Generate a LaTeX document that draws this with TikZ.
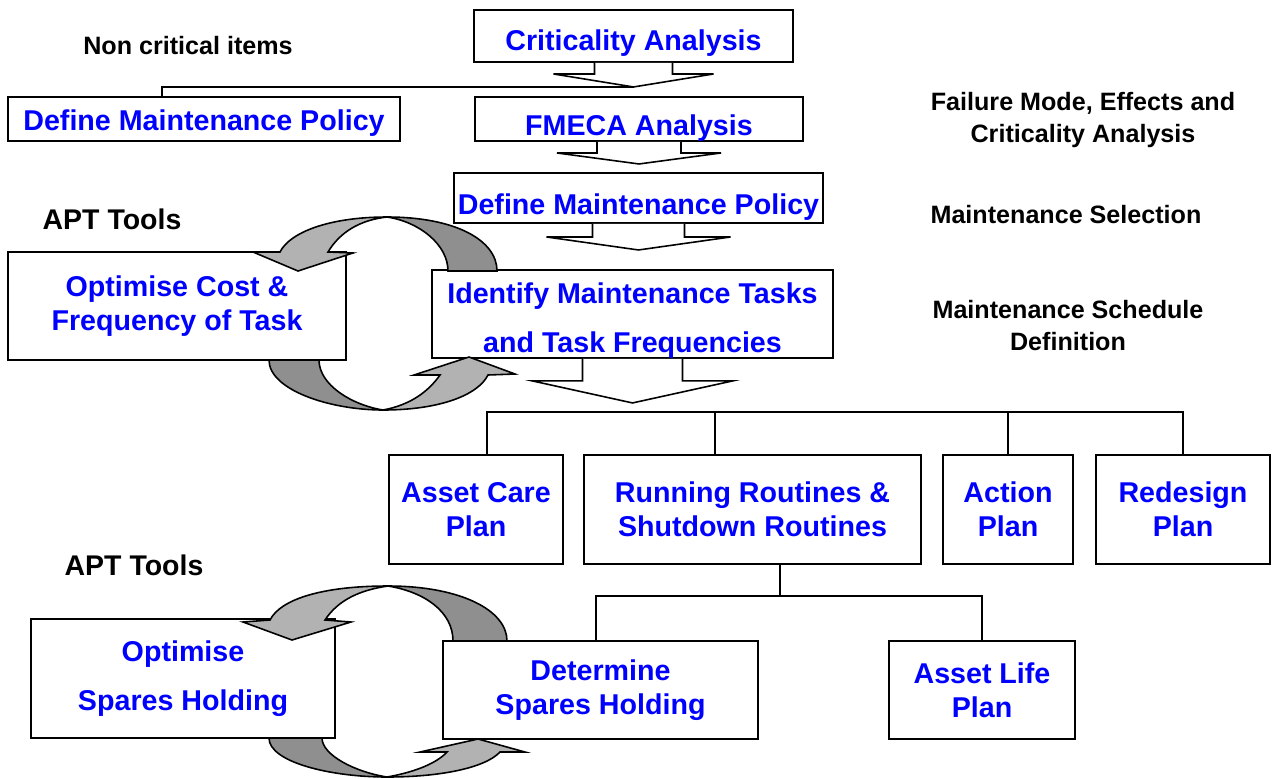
\documentclass[tikz,border=0pt]{standalone}
\usepackage{fontspec}
\setmainfont{Liberation Sans}

\newcommand*{\px}{0.02cm}

\definecolor{frontgrey}{HTML}{B2B2B2}
\definecolor{backgrey}{HTML}{8F8F8F}

\begin{document}
\begin{tikzpicture}
[
	x=\px, y=-\px,
	box/.style={draw,line width=1.1pt,fill=white,inner sep=0pt,align=center,text=blue,
		font=\bfseries\fontsize{16.3}{19.4}\selectfont},
	low/.style={text depth=0pt,text height=#1*\px},
	note/.style={align=center,font=\bfseries\fontsize{14.3}{18.2}\selectfont},
	tool/.style={font=\bfseries\fontsize{16.2}{19.4}\selectfont},
	link/.style={line width=0.9pt},
	blockarrow/.style={draw,fill=white,line width=0.9pt,line join=miter},
	front/.style={draw,line width=0.9pt,fill=frontgrey},
	back/.style={draw,line width=0.9pt,fill=backgrey}
]

	\useasboundingbox (0,0) rectangle (1274,778);

	% main chain
	\node[box,low=28,minimum width=319*\px,minimum height=52*\px] (crit) at (633.5,36) {Criticality Analysis};
	\node[box,low=22,minimum width=392*\px,minimum height=44*\px] (policyL) at (204,119) {Define Maintenance Policy};
	\node[box,low=32,minimum width=328*\px,minimum height=44*\px] (fmeca) at (639,119) {FMECA Analysis};
	\node[box,low=32,minimum width=369*\px,minimum height=50*\px] (policy) at (638.5,198) {Define Maintenance Policy};
	\node[box,minimum width=401*\px,minimum height=86*\px] (ident) at (632.5,314)
		{\rule{0pt}{0.66cm}Identify Maintenance Tasks\\[8.5pt] and Task Frequencies};
	\node[box,minimum width=338*\px,minimum height=108*\px] (cost) at (177,306)
		{Optimise Cost \&\\ Frequency of Task};

	% plans
	\node[box,minimum width=174*\px,minimum height=109*\px] (asset) at (476,509.5) {Asset Care\\ Plan};
	\node[box,minimum width=337*\px,minimum height=109*\px] (running) at (752.5,509.5)
		{Running Routines \&\\ Shutdown Routines};
	\node[box,minimum width=130*\px,minimum height=109*\px] (action) at (1008,509.5) {Action\\ Plan};
	\node[box,minimum width=174*\px,minimum height=109*\px] (redesign) at (1183,509.5) {Redesign\\ Plan};

	% spares
	\node[box,minimum width=315*\px,minimum height=98*\px] (determine) at (600.5,690) {Determine\\ Spares Holding};
	\node[box,minimum width=186*\px,minimum height=98*\px] (assetlife) at (982,690) {Asset Life\\ Plan};
	\node[box,minimum width=304*\px,minimum height=119*\px] (spares) at (183,678.5)
		{Optimise\\[8.5pt] Spares Holding};

	% side notes
	\node[note] (noncrit) at (188,46) {Non critical items};
	\node[tool] (aptA) at (112,219) {APT Tools};
	\node[tool] (aptB) at (134,565) {APT Tools};
	\node[note] (fmecaNote) at (1083,120) {Failure Mode, Effects and\\ Criticality Analysis};
	\node[note] (selNote) at (1066,215) {Maintenance Selection};
	\node[note] (schedNote) at (1068,326) {Maintenance Schedule\\ Definition};

	% block arrows
	\draw[blockarrow] (crit.south) ++(-39,0) -- ++(0,11) -- ++(-41,0) -- ++(80,13) coordinate (critTip)
		-- ++(80,-13) -- ++(-41,0) -- ++(0,-11);
	\draw[blockarrow] (fmeca.south) ++(-42,0) -- ++(0,11) -- ++(-40,0) -- ++(82,11)
		-- ++(82,-11) -- ++(-40,0) -- ++(0,-11);
	\draw[blockarrow] (policy.south) ++(-46,0) -- ++(0,13) -- ++(-46,0) -- ++(92,13)
		-- ++(92,-13) -- ++(-46,0) -- ++(0,-13);
	\draw[blockarrow] (ident.south) ++(-50,0) -- ++(0,22) -- ++(-50,0) -- ++(100,22)
		-- ++(100,-22) -- ++(-50,0) -- ++(0,-22);

	% non critical branch
	\coordinate (nc) at (162,0);
	\draw[link] (critTip) -| (policyL.north -| nc);

	% tree to the plans
	\coordinate (assetTop) at (487,412);
	\coordinate (runTop) at (715,412);
	\draw[link] (assetTop |- asset.north) -- (assetTop) -- (redesign.north |- assetTop) -- (redesign.north);
	\draw[link] (runTop) -- (runTop |- running.north);
	\draw[link] (action.north |- assetTop) -- (action.north);

	\coordinate (runFoot) at (780,596);
	\coordinate (detTop) at (596,596);
	\draw[link] (runFoot |- running.south) -- (runFoot);
	\draw[link] (detTop |- determine.north) -- (detTop) -- (assetlife.north |- detTop) -- (assetlife.north);

	% loop round the task optimisation
	\filldraw[back] (387,217) .. controls (455,217) and (497,240) .. (497,271)
		-- (448,271) .. controls (448,245) and (420,222) .. (387,217) -- cycle;
	\filldraw[front] (387,217) .. controls (330,217) and (290,232) .. (280,252)
		-- (253,252) -- (298,271) -- (353,253) -- (328,252)
		.. controls (340,232) and (360,220) .. (387,217) -- cycle;
	\filldraw[back] (269,360) .. controls (269,390) and (330,410) .. (383,410)
		.. controls (352,405) and (319,385) .. (319,360) -- cycle;
	\filldraw[front] (383,410) .. controls (440,410) and (478,395) .. (488,375)
		-- (515,374) -- (469,357) -- (414,375) -- (440,375)
		.. controls (428,392) and (410,405) .. (383,410) -- cycle;

	% loop round the spares holding
	\filldraw[back] (388,586) .. controls (460,586) and (507,610) .. (507,641)
		-- (453,641) .. controls (453,612) and (425,592) .. (388,586) -- cycle;
	\filldraw[front] (388,586) .. controls (320,586) and (280,600) .. (270,620)
		-- (243,622) -- (292,640) -- (351,622) -- (325,620)
		.. controls (338,600) and (360,590) .. (388,586) -- cycle;
	\filldraw[back] (269,738) .. controls (269,762) and (330,777) .. (387,777)
		.. controls (355,772) and (322,755) .. (322,738) -- cycle;
	\filldraw[front] (387,777) .. controls (440,777) and (485,768) .. (500,752)
		-- (525,752) -- (478,739) -- (420,752) -- (447,752)
		.. controls (435,765) and (410,773) .. (387,777) -- cycle;

\end{tikzpicture}
\end{document}
